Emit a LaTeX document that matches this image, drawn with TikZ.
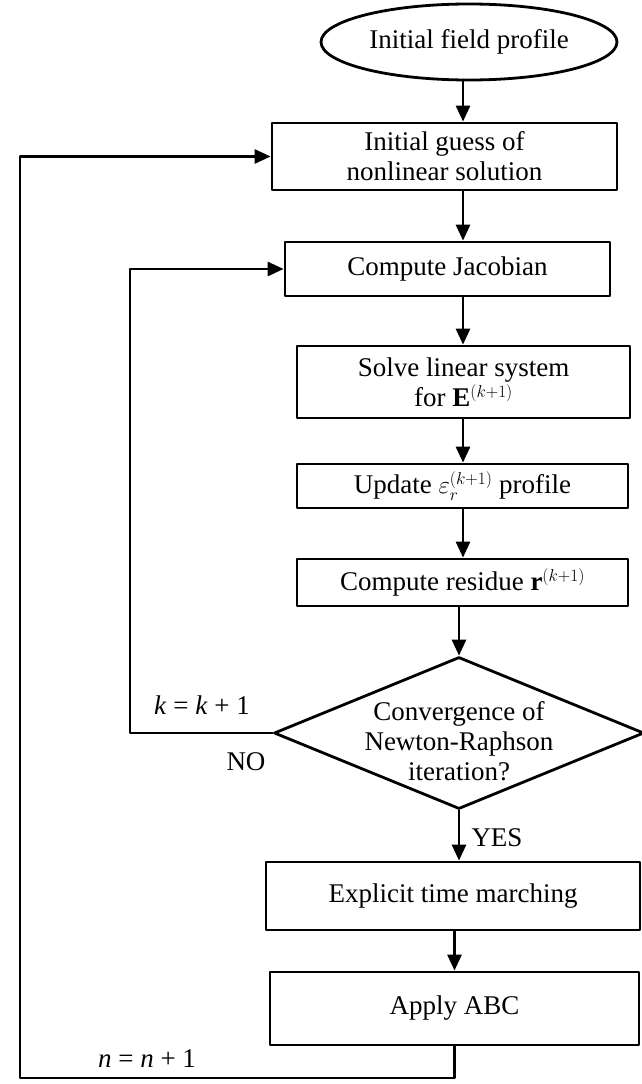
\documentclass[tikz,border=0pt]{standalone}
\usepackage{fontspec}
\setmainfont{Liberation Serif}
\usetikzlibrary{arrows.meta,shapes.geometric}
\begin{document}
\begin{tikzpicture}[x=1pt,y=-1pt,line cap=round,line join=round,line width=2.8pt,
    font=\fontsize{27}{30}\selectfont,
    box/.style={draw,rectangle,align=center,inner sep=0pt},
    arr/.style={-{Triangle[length=16pt,width=14pt]}}]
  \useasboundingbox (0,0) rectangle (641,1084);

  \node[draw,ellipse,inner sep=0pt,minimum width=296,minimum height=76] (prof) at (469,42) {Initial field profile};
  \node[box,minimum width=345,minimum height=67] (guess) at (444.5,156.5) {Initial guess of\\nonlinear solution};
  \node[box,minimum width=325,minimum height=54] (jac) at (447.5,269) {Compute Jacobian};
  \node[box,minimum width=333,minimum height=72] (solve) at (463.5,382) {Solve linear system\\for $\mathbf{E}^{(k+1)}$};
  \node[box,minimum width=331,minimum height=44] (upd) at (462.5,486) {Update $\varepsilon_r^{(k+1)}$ profile};
  \node[box,minimum width=331,minimum height=47] (res) at (462.5,582.5) {Compute residue $\mathbf{r}^{(k+1)}$};
  \node[draw,diamond,inner sep=0pt,minimum width=370,minimum height=152] (conv) at (459,733) {};
  \node[align=center,inner sep=0pt] (convtxt) at (459,741) {Convergence of\\Newton-Raphson\\iteration?};
  \node[box,minimum width=374,minimum height=68] (expl) at (453,896) {Explicit time marching};
  \node[box,minimum width=369,minimum height=73] (abc) at (454.5,1008.5) {Apply ABC};

  \node (kinc) at (202,705) {\textit{k} = \textit{k} + 1};
  \node (no) at (246,762) {NO};
  \node (yes) at (497,838) {YES};
  \node (ninc) at (147,1059) {\textit{n} = \textit{n} + 1};

  \coordinate (spine) at (463,0);
  \coordinate (kc) at (130,733);
  \coordinate (nc) at (20,1078);

  % main flow
  \draw[arr] (prof.south -| spine) -- (guess.north -| spine);
  \draw[arr] (guess.south -| spine) -- (jac.north -| spine);
  \draw[arr] (jac.south -| spine) -- (solve.north -| spine);
  \draw[arr] (solve.south -| spine) -- (upd.north -| spine);
  \draw[arr] (upd.south -| spine) -- (res.north -| spine);
  \draw[arr] (res.south -| conv.north) -- (conv.north);
  \draw[arr] (conv.south) -- (conv.south |- expl.north);
  \draw[arr] (expl.south -| abc.north) -- (abc.north);

  % loops
  \draw[arr] (conv.west) -- (kc) |- (jac.west);
  \draw[arr] (abc.south) -- (abc.south |- nc) -- (nc) |- (guess.west);
\end{tikzpicture}
\end{document}
